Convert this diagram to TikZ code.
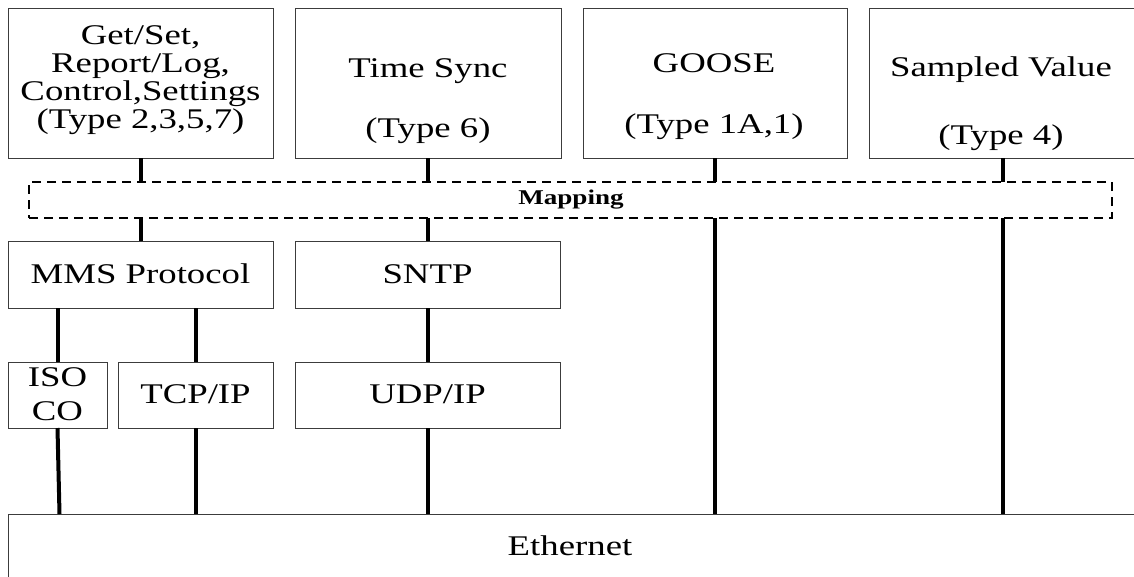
\documentclass[tikz,border=0pt]{standalone}
\usepackage{fontspec}
\setmainfont{Liberation Serif}[FakeStretch=1.29]
\definecolor{boxgray}{RGB}{60,60,60}
\tikzset{
  box/.style={draw=boxgray, line width=1pt, inner sep=0pt, outer sep=0pt},
  mapbox/.style={draw=black, line width=2.2pt, dash pattern=on 9pt off 6pt, inner sep=0pt, outer sep=0pt},
  lbl/.style={inner sep=0pt, outer sep=0pt, align=center, font=\fontsize{28.5}{27.7}\selectfont},
  maplbl/.style={inner sep=0pt, outer sep=0pt, font=\fontsize{21}{22}\selectfont\bfseries},
  conn/.style={line width=4pt, black},
}
\begin{document}
\begin{tikzpicture}[x=1pt, y=-1pt]
\useasboundingbox (0,0) rectangle (1134,576);

% application services (labels anchored on the baseline of their last line)
\node[box, minimum width=265pt, minimum height=150pt] (app1) at (140.5,83) {};
\node[box, minimum width=266pt, minimum height=150pt] (app2) at (428,83) {};
\node[box, minimum width=264pt, minimum height=150pt] (app3) at (715,83) {};
\node[box, minimum width=267pt, minimum height=150pt] (app4) at (1002.5,83) {};

\node[lbl, anchor=base] (app1t) at (140.5,128) {Get/Set,\\Report/Log,\\Control,Settings\\(Type 2,3,5,7)};
\node[lbl, anchor=base] (app2t) at (428,137) {Time Sync\\[32.3pt](Type 6)};
\node[lbl, anchor=base] (app3t) at (714,133) {GOOSE\\[33.3pt](Type 1A,1)};
\node[lbl, anchor=base] (app4t) at (1001,144) {Sampled Value\\[40.3pt](Type 4)};

% mapping layer
\node[mapbox, minimum width=1083pt, minimum height=36pt] (map) at (570.5,200) {};
\node[maplbl, anchor=base] (mapt) at (571,204) {Mapping};

% protocol stacks
\node[box, minimum width=265pt, minimum height=67pt] (mms) at (140.5,274.5) {};
\node[box, minimum width=265pt, minimum height=67pt] (sntp) at (427.5,274.5) {};
\node[lbl, anchor=base] (mmst) at (140.5,283) {MMS Protocol};
\node[lbl, anchor=base] (sntpt) at (427.5,283) {SNTP};

\node[box, minimum width=99pt, minimum height=66pt] (iso) at (57.5,395) {};
\node[box, minimum width=155pt, minimum height=66pt] (tcp) at (195.5,395) {};
\node[box, minimum width=265pt, minimum height=66pt] (udp) at (427.5,395) {};
\node[lbl, anchor=base] (isot) at (57.5,420) {ISO\\[6.3pt]CO};
\node[lbl, anchor=base] (tcpt) at (195.5,403) {TCP/IP};
\node[lbl, anchor=base] (udpt) at (427.5,403) {UDP/IP};

% link layer
\node[box, minimum width=1128pt, minimum height=66pt] (eth) at (572,547) {};
\node[lbl, anchor=base] (etht) at (570,555) {Ethernet};

% services down to the mapping layer
\foreach \a in {app1,app2,app3,app4}
  \draw[conn] (\a.south) -- (\a.south |- map.north);

% mapping layer down to the stacks
\draw[conn] (mms.north) -- (mms.north |- map.south);
\draw[conn] (sntp.north) -- (sntp.north |- map.south);
\draw[conn] (app3.south |- map.south) -- (app3.south |- eth.north);
\draw[conn] (app4.south |- map.south) -- (app4.south |- eth.north);

% stack internals
\draw[conn] (iso.north) -- (iso.north |- mms.south);
\draw[conn] (tcp.north) -- (tcp.north |- mms.south);
\draw[conn] (udp.north) -- (udp.north |- sntp.south);

% transports down to Ethernet
\coordinate (isoeth) at ([xshift=2pt]iso.south |- eth.north);
\draw[conn] (iso.south) -- (isoeth);
\draw[conn] (tcp.south) -- (tcp.south |- eth.north);
\draw[conn] (udp.south) -- (udp.south |- eth.north);
\end{tikzpicture}
\end{document}
